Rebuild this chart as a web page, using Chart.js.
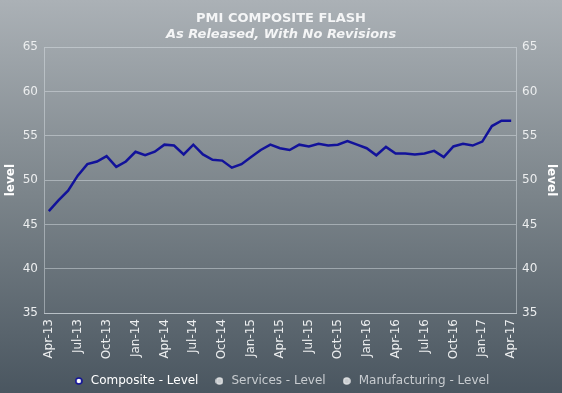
<!DOCTYPE html>
<html>
<head>
<meta charset="utf-8">
<script src="https://cdn.jsdelivr.net/npm/chart.js@4/dist/chart.umd.min.js"></script>
<style>
  html, body { margin: 0; padding: 0; }
  #wrap {
    width: 562px; height: 393px;
    background: linear-gradient(to bottom, #abb1b6 0%, #7b848a 50%, #4a5660 100%);
  }
  canvas { display: block; }
</style>
</head>
<body>
<div id="wrap"><canvas id="pmiChart" width="562" height="393"></canvas></div>
<script>
// PMI composite flash, monthly Apr-13 .. Apr-17
const months = [
  "Apr-13", "May-13", "Jun-13", "Jul-13", "Aug-13", "Sep-13", "Oct-13", "Nov-13", "Dec-13",
  "Jan-14", "Feb-14", "Mar-14", "Apr-14", "May-14", "Jun-14", "Jul-14", "Aug-14", "Sep-14",
  "Oct-14", "Nov-14", "Dec-14", "Jan-15", "Feb-15", "Mar-15", "Apr-15", "May-15", "Jun-15",
  "Jul-15", "Aug-15", "Sep-15", "Oct-15", "Nov-15", "Dec-15", "Jan-16", "Feb-16", "Mar-16",
  "Apr-16", "May-16", "Jun-16", "Jul-16", "Aug-16", "Sep-16", "Oct-16", "Nov-16", "Dec-16",
  "Jan-17", "Feb-17", "Mar-17", "Apr-17"
];

const composite = [
  46.5, 47.7, 48.8, 50.5, 51.8, 52.1, 52.7, 51.5, 52.1,
  53.2, 52.8, 53.2, 54.0, 53.9, 52.9, 54.0, 52.9, 52.3,
  52.2, 51.4, 51.8, 52.6, 53.4, 54.0, 53.6, 53.4, 54.0,
  53.8, 54.1, 53.9, 54.0, 54.4, 54.0, 53.6, 52.8, 53.75,
  53.0, 53.0, 52.9, 53.0, 53.3, 52.6, 53.8, 54.1, 53.9,
  54.35, 56.1, 56.7, 56.7
];

// switched off in the original legend
const services      = [];
const manufacturing = [];

const seriesNames = ["Composite - Level", "Services - Level", "Manufacturing - Level"];

const FONT  = "DejaVu Sans";
const TEXT  = "#eceeef";
const GRID  = "rgba(225,230,235,0.45)";
const NAVY  = "#12129a";

// small round legend markers (keeps them circular with a wider legend box)
function makeDot(fill, stroke) {
  const c = document.createElement("canvas");
  c.width = 8; c.height = 8;
  const g = c.getContext("2d");
  g.beginPath();
  g.arc(4, 4, 3, 0, Math.PI * 2);
  g.fillStyle = fill;
  g.fill();
  g.lineWidth = 1.6;
  g.strokeStyle = stroke;
  g.stroke();
  return c;
}
const dotOn  = makeDot("#ffffff", NAVY);
const dotOff = makeDot("#c9cccf", "#dcdee0");

const yScale = (position, showGrid, width) => ({
  position,
  min: 35,
  max: 65,
  afterFit: scale => { scale.width = width; },
  ticks: { stepSize: 5, color: TEXT, padding: 6, font: { family: FONT, size: 12 } },
  grid: { display: showGrid, color: GRID, drawTicks: false },
  border: { display: true, color: GRID },
  title: { display: true, text: "level", color: "#ffffff", font: { family: FONT, size: 12, weight: "bold" } }
});

new Chart(document.getElementById("pmiChart"), {
  type: "line",
  data: {
    labels: months,
    datasets: [
      { label: seriesNames[0], data: composite, borderColor: NAVY, borderWidth: 2.5,
        pointRadius: 0, tension: 0, yAxisID: "y" },
      { label: seriesNames[1], data: services, borderColor: "#c8cbce", pointRadius: 0, yAxisID: "y" },
      { label: seriesNames[2], data: manufacturing, borderColor: "#c8cbce", pointRadius: 0, yAxisID: "y" }
    ]
  },
  options: {
    responsive: false,
    animation: false,
    layout: { padding: { top: 0, bottom: -4, left: 0, right: 0 } },
    plugins: {
      title: {
        display: true,
        text: "PMI COMPOSITE FLASH",
        color: "#f4f5f6",
        font: { family: FONT, size: 13, weight: "bold" },
        padding: { top: 11, bottom: 0 }
      },
      subtitle: {
        display: true,
        text: "As Released, With No Revisions",
        color: "#f4f5f6",
        font: { family: FONT, size: 13, weight: "bold", style: "italic" },
        padding: { top: 0, bottom: 5 }
      },
      legend: {
        position: "bottom",
        labels: {
          usePointStyle: true,
          pointStyleWidth: 12,
          boxHeight: 6,
          padding: 15,
          font: { family: FONT, size: 12 },
          generateLabels: chart => chart.data.datasets.map((ds, i) => ({
            text: ds.label,
            datasetIndex: i,
            pointStyle: i === 0 ? dotOn : dotOff,
            fontColor: i === 0 ? "#ffffff" : "#c8ccd0",
            hidden: false
          }))
        }
      },
      tooltip: { enabled: false }
    },
    scales: {
      x: {
        offset: true,
        afterFit: scale => { scale.height = 47; },
        grid: { display: false, drawTicks: false },
        border: { display: true, color: GRID },
        ticks: {
          autoSkip: false,
          maxRotation: 90,
          minRotation: 90,
          padding: 6,
          color: TEXT,
          font: { family: FONT, size: 12 },
          callback: function (value, index) {
            return index % 3 === 0 ? this.getLabelForValue(value) : "";
          }
        }
      },
      y: yScale("left", true, 44),
      y1: yScale("right", false, 46)
    }
  }
});
</script>
</body>
</html>
